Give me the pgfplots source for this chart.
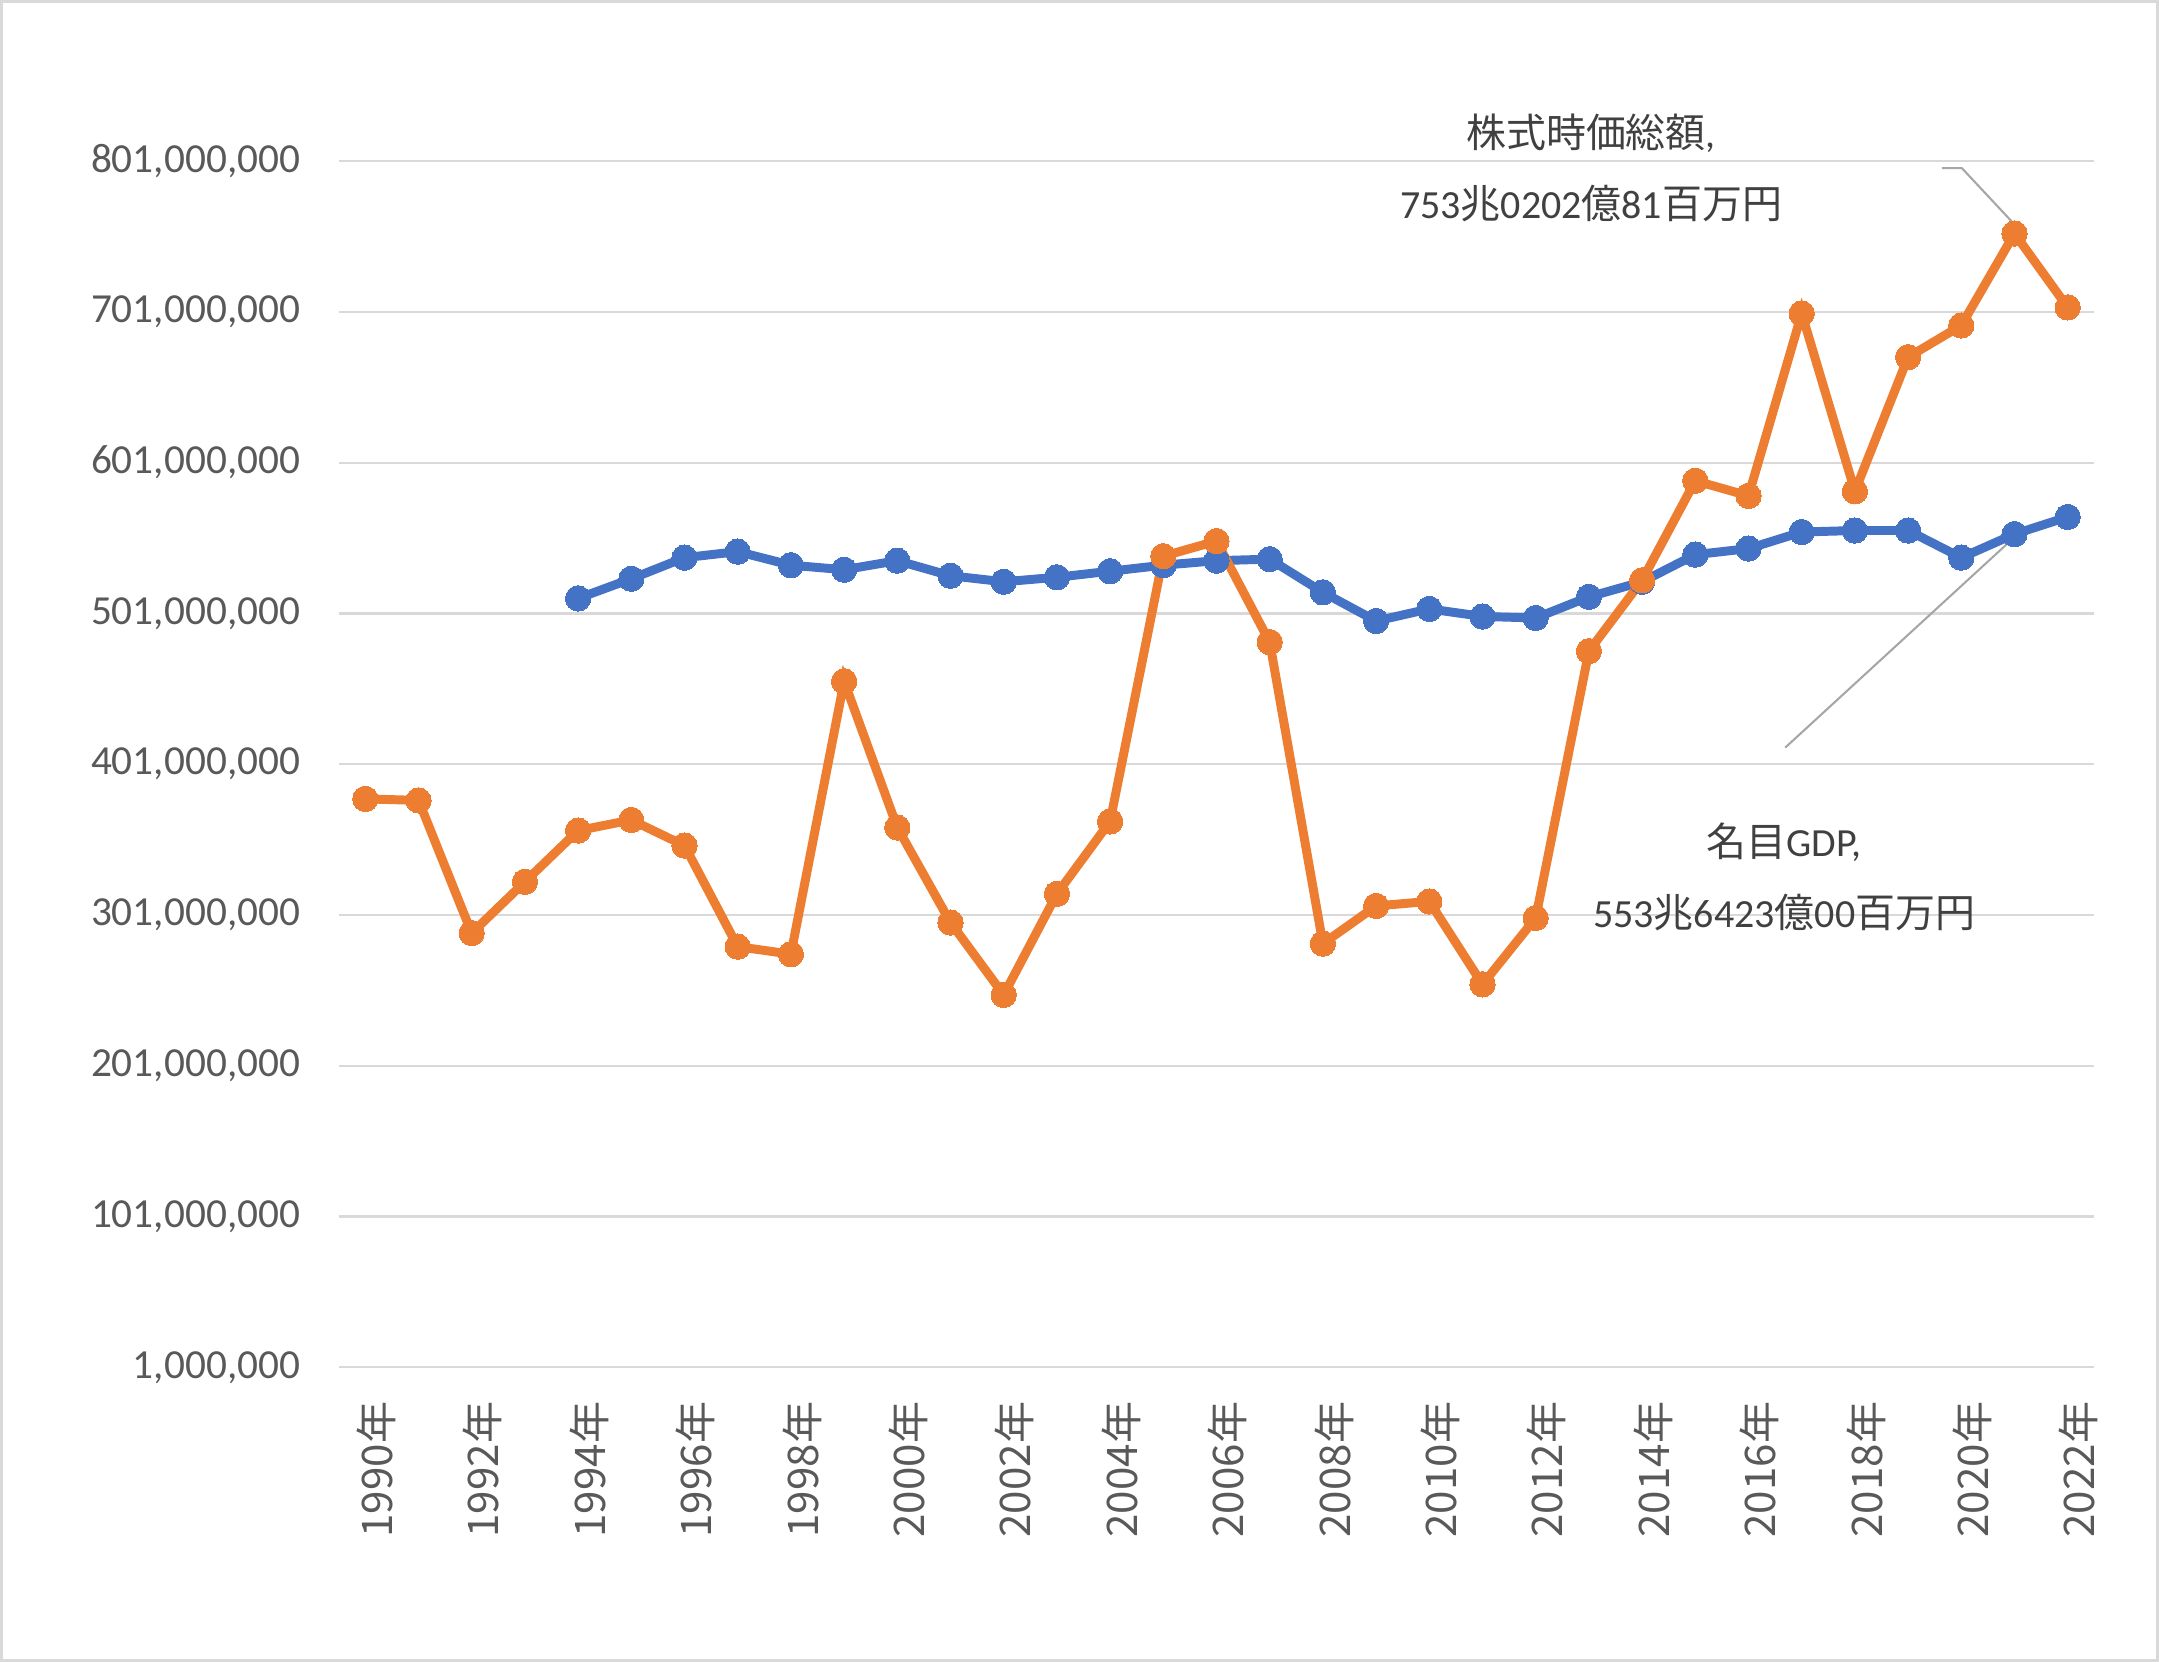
\documentclass[border=0pt]{standalone}
\usepackage{fontspec}
\setmainfont{Carlito}
\newfontfamily\cjk{Noto Sans CJK JP}
\usepackage{pgfplots}
\pgfplotsset{compat=1.18}
\definecolor{cblue}{HTML}{4472C4}
\definecolor{corange}{HTML}{ED7D31}
\definecolor{cgrid}{HTML}{D9D9D9}
\definecolor{ctext}{HTML}{595959}
\definecolor{clab}{HTML}{404040}
\definecolor{clead}{HTML}{A6A6A6}

\begin{document}
\begin{tikzpicture}
\useasboundingbox (0,0) rectangle (784pt,603.5pt);
\draw[cgrid, line width=1pt] (0.5pt,0.5pt) rectangle (783.5pt,603pt);
\begin{axis}[
  at={(123pt,107pt)}, anchor=south west,
  scale only axis, width=637.5pt, height=438pt,
  xmin=1989.5, xmax=2022.5,
  ymin=1000000, ymax=801000000,
  scaled y ticks=false,
  clip=false,
  axis line style={draw=none},
  major tick length=0pt,
  ymajorgrids, grid style={cgrid, line width=0.8pt},
  xtick={1990,1992,...,2022},
  xticklabels={1990年,1992年,1994年,1996年,1998年,2000年,2002年,2004年,2006年,2008年,2010年,2012年,2014年,2016年,2018年,2020年,2022年},
  ytick={1000000,101000000,201000000,301000000,401000000,501000000,601000000,701000000,801000000},
  yticklabels={{1,000,000},{101,000,000},{201,000,000},{301,000,000},{401,000,000},{501,000,000},{601,000,000},{701,000,000},{801,000,000}},
  yticklabel style={font=\fontsize{15}{18}\selectfont, text=ctext, xshift=-10.5pt},
  xticklabel style={font=\cjk\fontsize{15.3}{18}\selectfont, text=ctext, yshift=-9pt, xshift=4pt, rotate=90, anchor=east},
]
\addplot[cblue, line width=3.25pt, mark=*, mark size=4.6pt, mark options={fill=cblue, draw=cblue, line width=0pt}] coordinates {
(1994,511000000) (1995,524000000) (1996,538000000) (1997,542000000) (1998,533000000)
(1999,530000000) (2000,536000000) (2001,526000000) (2002,522000000) (2003,525000000)
(2004,529000000) (2005,533000000) (2006,536000000) (2007,537000000) (2008,515000000)
(2009,496000000) (2010,504000000) (2011,499000000) (2012,498000000) (2013,512000000)
(2014,522000000) (2015,540000000) (2016,544000000) (2017,555000000) (2018,556000000)
(2019,556000000) (2020,538000000) (2021,553642300) (2022,565000000)
};
\addplot[corange, line width=3.25pt, mark=*, mark size=4.6pt, mark options={fill=corange, draw=corange, line width=0pt}] coordinates {
(1990,378000000) (1991,377000000) (1992,289000000) (1993,323000000) (1994,357000000)
(1995,364000000) (1996,347000000) (1997,280000000) (1998,275000000) (1999,456000000)
(2000,359000000) (2001,296000000) (2002,248000000) (2003,315000000) (2004,363000000)
(2005,539000000) (2006,549000000) (2007,482000000) (2008,282000000) (2009,307000000)
(2010,310000000) (2011,255000000) (2012,299000000) (2013,476000000) (2014,523000000)
(2015,589000000) (2016,579000000) (2017,700000000) (2018,582000000) (2019,671000000)
(2020,692000000) (2021,753020281) (2022,704000000)
};
\draw[clead, line width=0.75pt] (axis cs:2019.64,796400000) -- (axis cs:2020.01,796400000) -- (axis cs:2021,759000000);
\draw[clead, line width=0.75pt] (axis cs:2016.69,412000000) -- (axis cs:2020.95,550000000);
\node[text=clab, font=\fontsize{14.5}{17}\selectfont] at (axis cs:2013.04,819300000) {{\cjk 株式時価総額},};
\node[text=clab, font=\fontsize{14.5}{17}\selectfont] at (axis cs:2013.04,772700000) {753{\cjk 兆}0202{\cjk 億}81{\cjk 百万円}};
\node[text=clab, font=\fontsize{14.5}{17}\selectfont] at (axis cs:2016.67,349000000) {{\cjk 名目}GDP,};
\node[text=clab, font=\fontsize{14.5}{17}\selectfont] at (axis cs:2016.67,302400000) {553{\cjk 兆}6423{\cjk 億}00{\cjk 百万円}};
\end{axis}
\end{tikzpicture}
\end{document}
